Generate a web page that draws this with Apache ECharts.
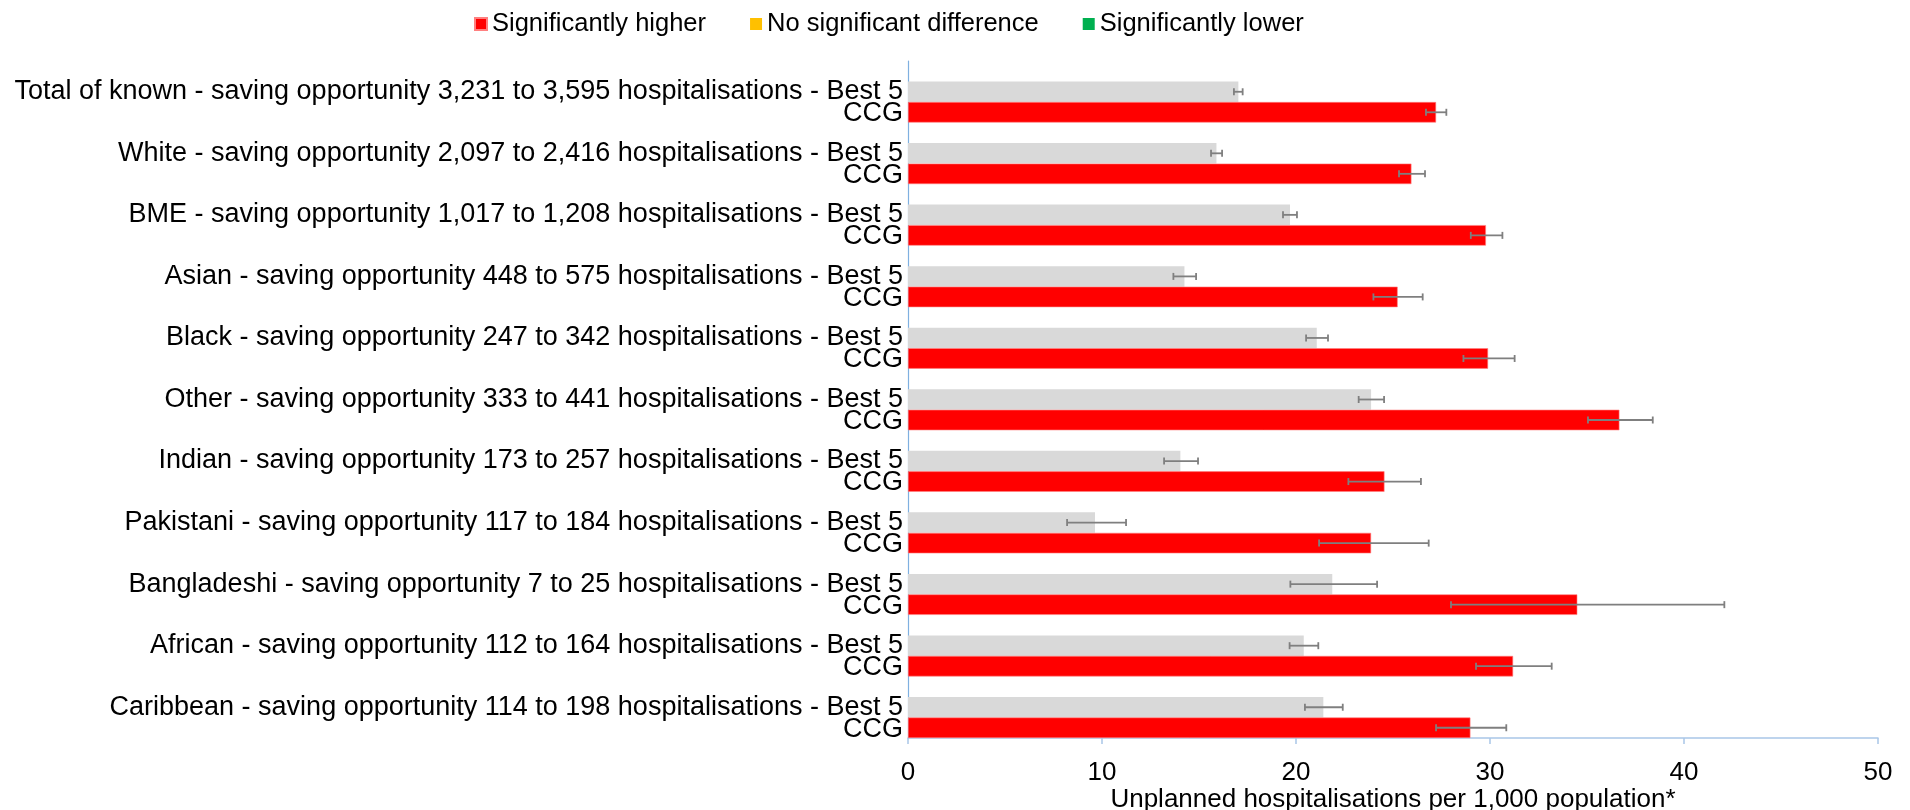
<!DOCTYPE html>
<html>
<head>
<meta charset="utf-8">
<script src="https://cdn.jsdelivr.net/npm/echarts@6/dist/echarts.min.js"></script>
<style>
html,body{margin:0;padding:0;background:#fff;}
#chart{width:1910px;height:810px;}
</style>
</head>
<body>
<div id="chart"></div>
<script>
var categories = [
  "Total of known - saving opportunity 3,231 to 3,595 hospitalisations",
  "White - saving opportunity 2,097 to 2,416 hospitalisations",
  "BME - saving opportunity 1,017 to 1,208 hospitalisations",
  "Asian - saving opportunity 448 to 575 hospitalisations",
  "Black - saving opportunity 247 to 342 hospitalisations",
  "Other - saving opportunity 333 to 441 hospitalisations",
  "Indian - saving opportunity 173 to 257 hospitalisations",
  "Pakistani - saving opportunity 117 to 184 hospitalisations",
  "Bangladeshi - saving opportunity 7 to 25 hospitalisations",
  "African - saving opportunity 112 to 164 hospitalisations",
  "Caribbean - saving opportunity 114 to 198 hospitalisations"
];
var rowLabels = ["Best 5", "CCG"];
var best5     = [17.03, 15.90, 19.69, 14.25, 21.07, 23.87, 14.04, 9.64, 21.87, 20.40, 21.41];
var best5Low  = [16.80, 15.62, 19.33, 13.68, 20.52, 23.23, 13.20, 8.20, 19.71, 19.67, 20.46];
var best5High = [17.25, 16.19, 20.05, 14.85, 21.65, 24.54, 14.95, 11.24, 24.18, 21.15, 22.41];
var ccg       = [27.22, 25.95, 29.79, 25.24, 29.90, 36.67, 24.56, 23.87, 34.50, 31.19, 28.99];
var ccgLow    = [26.70, 25.31, 29.01, 23.99, 28.63, 35.05, 22.70, 21.19, 27.99, 29.28, 27.22];
var ccgHigh   = [27.75, 26.65, 30.64, 26.53, 31.27, 38.39, 26.44, 26.84, 42.08, 33.18, 30.84];
var legendNames = ["Significantly higher", "No significant difference", "Significantly lower"];
var xTicks = [0, 10, 20, 30, 40, 50];
var xAxisTitle = "Unplanned hospitalisations per 1,000 population*";

var FONT = "Liberation Sans, Arial, sans-serif";

function errData(lo, hi) {
  return lo.map(function (v, i) { return [v, hi[i], i]; });
}
function errRender(slot) {
  return function (params, api) {
    var idx = api.value(2);
    var c = api.coord([0, idx]);
    var band = api.size([0, 1])[1];
    var y = c[1] + (slot - 1) * band / 3;
    var x1 = api.coord([api.value(0), idx])[0];
    var x2 = api.coord([api.value(1), idx])[0];
    var st = { stroke: '#7f7f7f', lineWidth: 1.8 };
    var cap = 3.5;
    return {
      type: 'group',
      children: [
        { type: 'line', shape: { x1: x1, y1: y, x2: x2, y2: y }, style: st },
        { type: 'line', shape: { x1: x1, y1: y - cap, x2: x1, y2: y + cap }, style: st },
        { type: 'line', shape: { x1: x2, y1: y - cap, x2: x2, y2: y + cap }, style: st }
      ]
    };
  };
}

var chart = echarts.init(document.getElementById('chart'));
chart.setOption({
  animation: false,
  backgroundColor: '#ffffff',
  textStyle: { fontFamily: FONT, color: '#000' },
  legend: {
    data: legendNames,
    left: 469,
    top: 6,
    icon: 'rect',
    itemWidth: 12,
    itemHeight: 12,
    itemGap: 44,
    textStyle: { fontFamily: FONT, fontSize: 25.5, color: '#000' }
  },
  grid: { left: 908, right: 32, top: 61, bottom: 72, containLabel: false, outerBoundsMode: 'none' },
  xAxis: {
    type: 'value',
    min: xTicks[0],
    max: xTicks[xTicks.length - 1],
    interval: xTicks[1] - xTicks[0],
    axisLine: { show: true, lineStyle: { color: '#a9c6e8', width: 1.5 } },
    axisTick: { show: true, length: 6, lineStyle: { color: '#a9c6e8', width: 1.5 } },
    splitLine: { show: false },
    axisLabel: { fontFamily: FONT, fontSize: 26, color: '#000', margin: 22 },
    name: xAxisTitle,
    nameLocation: 'middle',
    nameGap: 49,
    nameMoveOverlap: false,
    nameTextStyle: { fontFamily: FONT, fontSize: 26, color: '#000' }
  },
  yAxis: {
    type: 'category',
    data: categories,
    inverse: true,
    axisLine: { show: true, lineStyle: { color: '#7fb0e0', width: 1.2 } },
    axisTick: { show: false },
    axisLabel: {
      interval: 0, hideOverlap: false, showMinLabel: true, showMaxLabel: true,
      fontFamily: FONT, fontSize: 27, color: '#000', margin: 5,
      lineHeight: 22, align: 'right', verticalAlign: 'middle',
      formatter: function (v) { return '\n' + v + ' - ' + rowLabels[0] + '\n' + rowLabels[1]; }
    }
  },
  series: [
    { type: 'bar', name: 'spacer', data: [], barGap: '0%', barCategoryGap: '0%', silent: true },
    { type: 'bar', name: rowLabels[0], data: best5, barGap: '0%', barCategoryGap: '0%',
      itemStyle: { color: '#d9d9d9' } },
    { type: 'bar', name: legendNames[0], data: ccg, barGap: '0%', barCategoryGap: '0%',
      itemStyle: { color: '#ff0000', borderColor: '#ff8080', borderWidth: 0.6 } },
    { type: 'line', name: legendNames[1], data: [], itemStyle: { color: '#ffc000' } },
    { type: 'line', name: legendNames[2], data: [], itemStyle: { color: '#00b050' } },
    { type: 'custom', name: 'errBest5', data: errData(best5Low, best5High),
      renderItem: errRender(1), encode: { x: [0, 1], y: 2 }, z: 5, silent: true },
    { type: 'custom', name: 'errCCG', data: errData(ccgLow, ccgHigh),
      renderItem: errRender(2), encode: { x: [0, 1], y: 2 }, z: 5, silent: true }
  ]
});
</script>
</body>
</html>
